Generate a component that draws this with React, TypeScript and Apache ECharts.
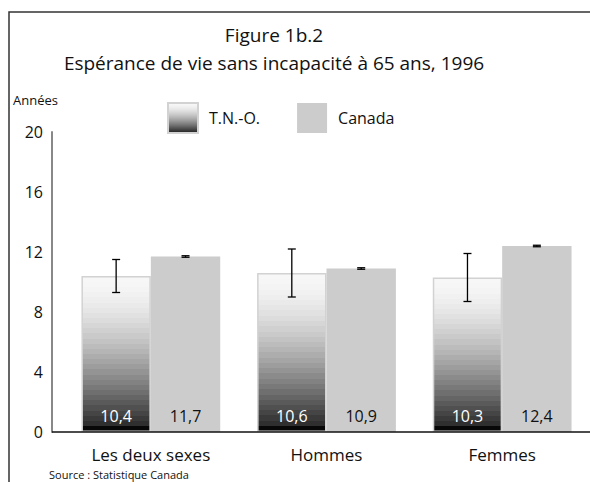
import React, { useEffect, useRef } from "react";
import * as echarts from "echarts";

const categories = ["Les deux sexes", "Hommes", "Femmes"];
const tnoValues = [10.4, 10.6, 10.3];
const canadaValues = [11.7, 10.9, 12.4];
const tnoErrors = [1.1, 1.6, 1.6];
const canadaErrors = [0.05, 0.05, 0.05];
const yTicks = { min: 0, max: 20, interval: 4 };
const seriesNames = ["T.N.-O.", "Canada"];

const FONT = "'Open Sans', 'Noto Sans', sans-serif";
const GAP = 0.21;

function steppedGradient() {
  const n = 30;
  const stops: { offset: number; color: string }[] = [];
  for (let i = 0; i < n; i++) {
    const t = i / (n - 1);
    let v = Math.round(247 - 212 * Math.pow(t, 1.6));
    if (i === n - 1) v = 8;
    const c = `rgb(${v},${v},${v})`;
    stops.push({ offset: i / n, color: c });
    stops.push({ offset: (i + 1) / n, color: c });
  }
  return new echarts.graphic.LinearGradient(0, 0, 0, 1, stops);
}

function errorSeries(values: number[], errors: number[], side: number) {
  return {
    type: "custom",
    z: 10,
    silent: true,
    encode: { x: 0, y: 1 },
    data: values.map((v, i) => [i, v, errors[i]]),
    renderItem: (_params: any, api: any) => {
      const cat = api.value(0);
      const val = api.value(1);
      const err = api.value(2);
      const band = api.size([1, 0])[0];
      const bw = (band * (1 - GAP)) / 2;
      const top = api.coord([cat, val + err]);
      const bot = api.coord([cat, val - err]);
      const x = top[0] + (side * bw) / 2;
      const cap = 4;
      const style = { stroke: "#000", lineWidth: 1.3 };
      return {
        type: "group",
        children: [
          { type: "line", shape: { x1: x, y1: top[1], x2: x, y2: bot[1] }, style },
          { type: "line", shape: { x1: x - cap, y1: top[1], x2: x + cap, y2: top[1] }, style },
          { type: "line", shape: { x1: x - cap, y1: bot[1], x2: x + cap, y2: bot[1] }, style },
        ],
      };
    },
  };
}

export default function App() {
  const ref = useRef<HTMLDivElement>(null);
  useEffect(() => {
    if (!ref.current) return;
    const chart = echarts.init(ref.current, null, { renderer: "svg" });
    const fmt = (p: any) => String(p.value).replace(".", ",");
    chart.setOption({
      animation: false,
      backgroundColor: "#fff",
      textStyle: { fontFamily: FONT },
      grid: { left: 63, top: 132, width: 532, height: 300, containLabel: false },
      legend: {
        data: seriesNames,
        left: 162,
        top: 97,
        itemWidth: 30,
        itemHeight: 30,
        itemGap: 37,
        icon: "rect",
        textStyle: { fontFamily: FONT, fontSize: 16, color: "#111", padding: [0, 0, 0, 6] },
      },
      xAxis: {
        type: "category",
        data: categories,
        axisLine: { show: false },
        axisTick: { show: false },
        axisLabel: { fontFamily: FONT, fontSize: 17, color: "#111", margin: 14 },
      },
      yAxis: {
        type: "value",
        min: yTicks.min,
        max: yTicks.max,
        interval: yTicks.interval,
        offset: 11,
        splitLine: { show: false },
        axisTick: { show: false },
        axisLine: { show: true, lineStyle: { color: "#888", width: 2 } },
        axisLabel: { fontFamily: FONT, fontSize: 16, color: "#111", margin: 9 },
      },
      series: [
        {
          name: seriesNames[0],
          type: "bar",
          data: tnoValues,
          barGap: "0%",
          barCategoryGap: "21%",
          itemStyle: { color: steppedGradient(), borderColor: "#d2d2d2", borderWidth: 1.5 },
          label: {
            show: true,
            position: "insideBottom",
            distance: 8,
            formatter: fmt,
            color: "#fff",
            fontFamily: FONT,
            fontSize: 16,
          },
        },
        {
          name: seriesNames[1],
          type: "bar",
          data: canadaValues,
          barGap: "0%",
          barCategoryGap: "21%",
          itemStyle: { color: "#cccccc" },
          label: {
            show: true,
            position: "insideBottom",
            distance: 8,
            formatter: fmt,
            color: "#111",
            fontFamily: FONT,
            fontSize: 16,
          },
        },
        errorSeries(tnoValues, tnoErrors, -1),
        errorSeries(canadaValues, canadaErrors, 1),
      ],
      graphic: [
        {
          type: "rect",
          shape: { x: 9, y: 12, width: 640, height: 520 },
          style: { fill: "none", stroke: "#333", lineWidth: 1.5 },
          silent: true,
        },
        {
          type: "line",
          shape: { x1: 52, y1: 432, x2: 590, y2: 432 },
          style: { stroke: "#111", lineWidth: 1.5 },
          z: 5,
        },
        {
          type: "text",
          x: 274,
          y: 35,
          style: { text: "Figure 1b.2", fontFamily: FONT, fontSize: 19, fill: "#111", textAlign: "center", textVerticalAlign: "middle" },
        },
        {
          type: "text",
          x: 274,
          y: 63,
          style: {
            text: "Espérance de vie sans incapacité à 65 ans, 1996",
            fontFamily: FONT,
            fontSize: 19,
            fill: "#111",
            textAlign: "center",
            textVerticalAlign: "middle",
          },
        },
        {
          type: "text",
          x: 13,
          y: 100,
          style: { text: "Années", fontFamily: FONT, fontSize: 13, fill: "#111", textVerticalAlign: "middle" },
        },
        {
          type: "text",
          x: 49,
          y: 474,
          style: { text: "Source : Statistique Canada", fontFamily: FONT, fontSize: 11, fill: "#111", textVerticalAlign: "middle" },
        },
      ],
    });
    return () => chart.dispose();
  }, []);
  return <div ref={ref} style={{ position: "fixed", left: 0, top: 0, width: 590, height: 482 }} />;
}
